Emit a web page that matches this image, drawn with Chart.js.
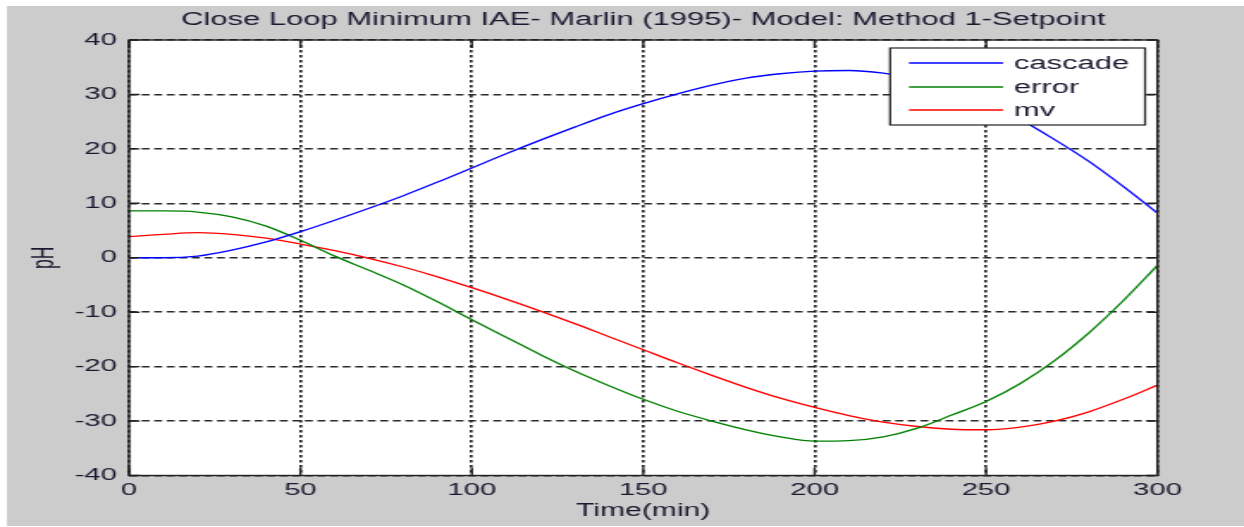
<!DOCTYPE html>
<html>
<head>
<meta charset="utf-8">
<title>Close Loop Minimum IAE</title>
<script src="https://cdn.jsdelivr.net/npm/chart.js@4.4.1/dist/chart.umd.min.js"></script>
<style>
  html, body { margin: 0; padding: 0; background: #fff; overflow: hidden; }
  /* figure is drawn narrow and stretched sideways, like the exported plot */
  #wrap { width: 723px; height: 527px; transform: scaleX(1.7206); transform-origin: 0 0; }
</style>
</head>
<body>
<div id="wrap"><canvas id="myChart" width="723" height="527"></canvas></div>
<script>
// time axis (min)
const times = [0, 10, 20, 30, 40, 50, 60, 70, 80, 90, 100, 110, 120, 130, 140, 150,
  160, 170, 180, 190, 200, 210, 220, 230, 240, 250, 260, 270, 280, 290, 300];

const cascade = [0, 0, 0.3, 1.4, 2.9, 4.8, 6.9, 9.1, 11.4, 13.9, 16.5, 19.1, 21.6, 24.0, 26.3,
  28.3, 30.1, 31.7, 33.0, 33.8, 34.3, 34.4, 33.9, 32.8, 30.9, 28.4, 25.4, 21.7, 17.7, 13.1, 8.2];

const error = [8.6, 8.6, 8.4, 7.5, 5.8, 3.2, 0.3, -2.3, -5.0, -8.1, -11.4, -14.6, -17.8, -20.8, -23.5,
  -26.0, -28.2, -30.0, -31.6, -32.9, -33.7, -33.6, -32.9, -31.3, -28.9, -26.4, -23.1, -18.9, -13.8, -7.9, -1.4];

const mv = [3.9, 4.3, 4.6, 4.3, 3.6, 2.5, 1.3, -0.1, -1.7, -3.5, -5.5, -7.6, -9.8, -12.1, -14.5,
  -16.9, -19.3, -21.6, -23.8, -25.8, -27.5, -29.0, -30.2, -31.0, -31.5, -31.6, -31.1, -30.0, -28.3, -26.0, -23.4];

const seriesNames = ['cascade', 'error', 'mv'];
const seriesColors = ['#0000ff', '#008000', '#ff0000'];

const xTicks = [0, 50, 100, 150, 200, 250, 300];
const yTicks = [-40, -30, -20, -10, 0, 10, 20, 30, 40];

const FONT = '"Liberation Sans", Arial, sans-serif';
const TEXT = '#1c1830';

const toPoints = (vals) => times.map((t, i) => ({ x: t, y: vals[i] }));

// gray figure background + white axes area
const figureBg = {
  id: 'figureBg',
  beforeDraw(chart) {
    const { ctx, chartArea: a } = chart;
    ctx.save();
    ctx.fillStyle = '#fff';
    ctx.fillRect(0, 0, chart.width, chart.height);
    ctx.fillStyle = '#cccccc';
    ctx.fillRect(4, 6, chart.width - 4, 520);
    ctx.fillStyle = '#fff';
    ctx.fillRect(a.left, a.top, a.right - a.left, a.bottom - a.top);
    ctx.restore();
  }
};

// box around the axes with inward tick marks, then the legend
const axesBox = {
  id: 'axesBox',
  afterDraw(chart) {
    const { ctx, chartArea: a, scales } = chart;
    ctx.save();
    ctx.strokeStyle = '#222';
    ctx.lineWidth = 1.4;
    ctx.beginPath();
    scales.x.ticks.forEach(t => {
      const px = scales.x.getPixelForValue(t.value);
      ctx.moveTo(px, a.bottom); ctx.lineTo(px, a.bottom - 8);
      ctx.moveTo(px, a.top); ctx.lineTo(px, a.top + 8);
    });
    scales.y.ticks.forEach(t => {
      const py = scales.y.getPixelForValue(t.value);
      ctx.moveTo(a.left, py); ctx.lineTo(a.left + 6.2, py);
      ctx.moveTo(a.right, py); ctx.lineTo(a.right - 6.2, py);
    });
    ctx.stroke();
    ctx.strokeRect(a.left, a.top, a.right - a.left, a.bottom - a.top);

    // legend
    const lx = 517.3, ly = 48, lw = 148.2, lh = 77;
    ctx.fillStyle = '#fff';
    ctx.fillRect(lx, ly, lw, lh);
    ctx.lineWidth = 1.2;
    ctx.strokeRect(lx, ly, lw, lh);
    const rows = [63, 87, 110];
    ctx.font = '18px ' + FONT;
    ctx.textBaseline = 'middle';
    ctx.textAlign = 'left';
    chart.data.datasets.forEach((ds, i) => {
      ctx.strokeStyle = ds.borderColor;
      ctx.lineWidth = 1.3;
      ctx.beginPath();
      ctx.moveTo(528.3, rows[i]);
      ctx.lineTo(583, rows[i]);
      ctx.stroke();
      ctx.fillStyle = TEXT;
      ctx.fillText(ds.label, 589.3, rows[i] + 1);
    });
    ctx.restore();
  }
};

new Chart(document.getElementById('myChart'), {
  type: 'line',
  data: {
    datasets: [cascade, error, mv].map((vals, i) => ({
      label: seriesNames[i],
      data: toPoints(vals),
      borderColor: seriesColors[i],
      backgroundColor: seriesColors[i],
      borderWidth: 1.3,
      pointRadius: 0,
      fill: false,
      cubicInterpolationMode: 'monotone'
    }))
  },
  options: {
    responsive: false,
    animation: false,
    devicePixelRatio: 1,
    layout: { padding: { left: 0, right: 50.3, top: 0, bottom: 0 } },
    plugins: {
      legend: { display: false },
      tooltip: { enabled: false },
      title: {
        display: true,
        fullSize: false,
        text: 'Close Loop Minimum IAE- Marlin (1995)- Model: Method 1-Setpoint',
        color: TEXT,
        font: { family: FONT, size: 18, weight: 'normal' },
        padding: { top: 9, bottom: 9.4 }
      }
    },
    scales: {
      x: {
        type: 'linear',
        min: 0,
        max: 300,
        afterFit(scale) { scale.height = 51.5; },
        afterBuildTicks(scale) { scale.ticks = xTicks.map(v => ({ value: v })); },
        ticks: { color: TEXT, font: { family: FONT, size: 17 }, padding: 5, maxRotation: 0 },
        grid: { color: '#1e1e1e', lineWidth: 1.6, drawTicks: false },
        border: { display: false, dash: [2.4, 2.6] },
        title: {
          display: true,
          text: 'Time(min)',
          color: TEXT,
          font: { family: FONT, size: 17.5 },
          padding: { top: 0, bottom: 5.5 }
        }
      },
      y: {
        min: -40,
        max: 40,
        afterFit(scale) { scale.width = 75; },
        afterBuildTicks(scale) { scale.ticks = yTicks.map(v => ({ value: v })); },
        ticks: { color: TEXT, font: { family: FONT, size: 17 }, padding: 7 },
        grid: { color: '#2a2a2a', lineWidth: 1.5, drawTicks: false },
        border: { display: false, dash: [4.6, 2.7] },
        title: {
          display: true,
          text: 'pH',
          color: TEXT,
          font: { family: FONT, size: 17.5 },
          padding: { top: 15.7, bottom: 0 }
        }
      }
    }
  },
  plugins: [figureBg, axesBox]
});
</script>
</body>
</html>
